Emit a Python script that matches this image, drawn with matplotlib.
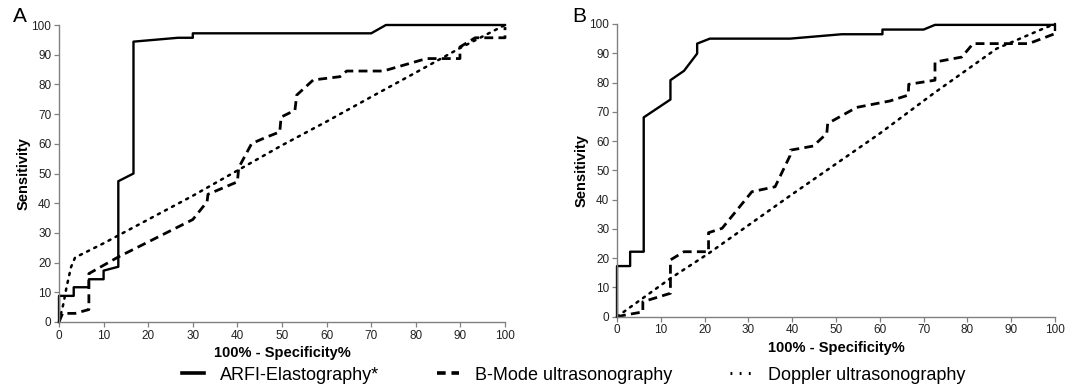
import matplotlib
matplotlib.use('Agg')
import matplotlib.pyplot as plt
from matplotlib.lines import Line2D

plt.rcParams['font.family'] = ['Liberation Sans', 'DejaVu Sans']

# ---- panel A ----
a_arfi_x = [0, 0, 3.3, 3.3, 6.7, 6.7, 10, 10, 13.3, 13.3, 16.7, 16.7, 26.7, 30, 30, 70, 73.3, 100]
a_arfi_y = [0, 8.8, 8.8, 11.7, 11.7, 14.4, 14.4, 17.3, 18.6, 47.4, 50, 94.4, 95.7, 95.7, 97.2, 97.2, 100, 100]

a_bmode_x = [0, 0.8, 3.6, 6.7, 6.7, 13.3, 30, 33.2, 33.4, 40, 40.3, 43.2, 46.6, 49.5, 49.8, 52.9, 53.3, 57,
             63, 64.5, 72.7, 82.4, 89.9, 89.9, 93.3, 100, 100]
a_bmode_y = [0, 2.9, 2.9, 4.2, 16.3, 21.9, 34.5, 40.5, 43, 47.2, 52, 60.1, 62.3, 64, 69, 71.3, 76.4, 81.5,
             82.6, 84.5, 84.5, 88.7, 88.7, 92.6, 95.7, 95.7, 99.3]

a_dopp_x = [0, 1, 1.7, 2.7, 3.6, 10, 20, 30, 40, 50, 60, 70, 80, 90, 100]
a_dopp_y = [0, 6.2, 11.8, 18.5, 21.7, 26.5, 34.5, 42.5, 51, 59.5, 67.5, 75.8, 84, 92.3, 100]

# ---- panel B ----
b_arfi_x = [0, 0, 3.0, 3.0, 6.1, 6.1, 12.2, 12.2, 15.3, 18.3, 18.3, 21.2, 39.5, 51.3, 60.6, 60.6, 70, 72.6, 100, 100]
b_arfi_y = [0, 17.3, 17.3, 22.2, 22.2, 68.1, 74.2, 80.8, 84, 89.9, 93.3, 95, 95, 96.5, 96.5, 98.1, 98.1, 99.7, 99.7, 98]

b_bmode_x = [0, 2, 5, 5.9, 5.9, 12.2, 12.2, 15.3, 20.9, 20.9, 24, 30.8, 36.1, 39.5, 39.6, 44.8, 47.9, 48.1,
             54.7, 62.3, 66.5, 66.6, 72.6, 72.6, 78.7, 81.3, 92.8, 94, 100]
b_bmode_y = [0, 0.6, 1.4, 1.6, 5.1, 8, 19.4, 22.2, 22.2, 28.7, 30.2, 42.7, 44.4, 55, 56.9, 58.3, 62.6, 66,
             71.5, 73.7, 75.7, 79.4, 80.8, 87, 88.7, 93.3, 93.3, 93.3, 96.7]

b_dopp_x = [0, 12.2, 20.9, 39.2, 60, 72.2, 86.7, 97.3, 100]
b_dopp_y = [0, 13.1, 21.6, 41, 62.6, 76.2, 91.6, 98.4, 100]

labels = ['ARFI-Elastography*', 'B-Mode ultrasonography', 'Doppler ultrasonography']
ticks = list(range(0, 101, 10))

solid = dict(color='black', lw=1.7, ls='-')
dashed = dict(color='black', lw=2.0, ls=(0, (3.2, 1.9)))
dotted = dict(color='black', lw=1.8, ls=(0, (0.9, 2.3)), dash_capstyle='round')

fig = plt.figure(figsize=(10.77, 3.87), dpi=100)
axA = fig.add_axes([59/1077, (387-322)/387, 446/1077, 297/387])
axB = fig.add_axes([617/1077, (387-316.7)/387, 438/1077, 292.7/387])

panels = [
    (axA, 'A', (a_arfi_x, a_arfi_y), (a_bmode_x, a_bmode_y), (a_dopp_x, a_dopp_y)),
    (axB, 'B', (b_arfi_x, b_arfi_y), (b_bmode_x, b_bmode_y), (b_dopp_x, b_dopp_y)),
]

for ax, tag, arfi, bmode, dopp in panels:
    ax.plot(*dopp, clip_on=False, **dotted)
    ax.plot(*bmode, clip_on=False, **dashed)
    ax.plot(*arfi, clip_on=False, **solid)
    ax.set_xlim(0, 100)
    ax.set_ylim(0, 100)
    ax.set_xticks(ticks)
    ax.set_yticks(ticks)
    for s in ('top', 'right'):
        ax.spines[s].set_visible(False)
    for s in ('left', 'bottom'):
        ax.spines[s].set_color('#808080')
        ax.spines[s].set_linewidth(1.0)
    ax.tick_params(direction='out', length=3.5, width=0.9, color='#808080',
                   labelsize=8.5, labelcolor='#222222', pad=2)
    ax.set_xlabel('100% - Specificity%', fontsize=10.5, fontweight='bold', labelpad=3)
    ax.set_ylabel('Sensitivity', fontsize=10.5, fontweight='bold', labelpad=1)

fig.text(13/1077, 1 - 17/387, 'A', fontsize=15, va='center', ha='left')
fig.text(572/1077, 1 - 17/387, 'B', fontsize=15, va='center', ha='left')

handles = [Line2D([], [], color='black', lw=2.6, ls='-'),
           Line2D([], [], color='black', lw=2.6, ls=(0, (2.4, 1.6))),
           Line2D([], [], color='black', lw=2.2, ls=(0, (0.6, 2.4)))]
fig.legend(handles, labels, loc='center', bbox_to_anchor=(574/1077, 1 - 375/387), ncol=3,
           frameon=False, fontsize=13, handlelength=1.2, handletextpad=0.9, columnspacing=3.2,
           borderpad=0, borderaxespad=0)

fig.savefig('out.png', dpi=100)
